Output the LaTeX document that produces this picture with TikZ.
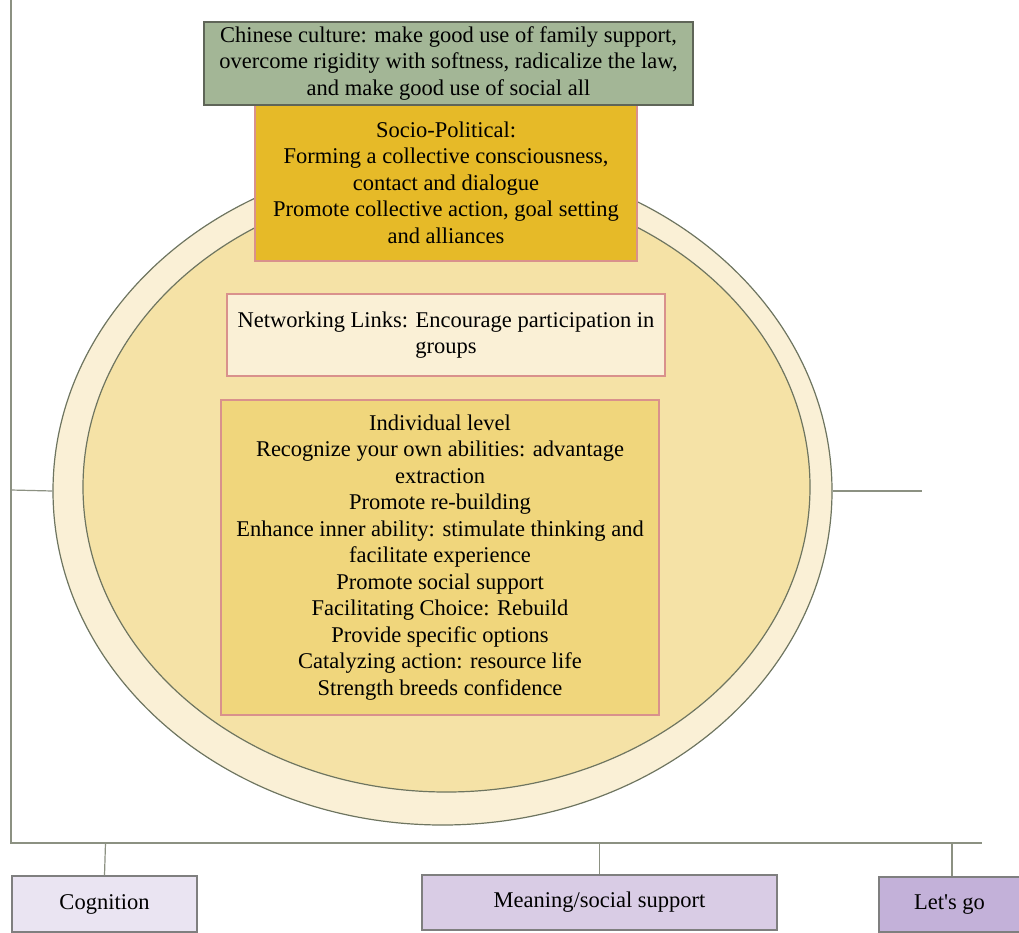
\documentclass[tikz,border=0pt]{standalone}
\usepackage{fontspec}
\setmainfont{Liberation Serif}
\newfontfamily\plainserif{Liberation Serif}
\usetikzlibrary{shapes.geometric}
\definecolor{axisc}{HTML}{8C9182}
\definecolor{ellline}{HTML}{6E7560}
\definecolor{outerf}{HTML}{FAF0D6}
\definecolor{innerf}{HTML}{F5E2A6}
\definecolor{chinf}{HTML}{A3B696}
\definecolor{chind}{HTML}{5F6558}
\definecolor{sociof}{HTML}{E6BA28}
\definecolor{pinkd}{HTML}{D9918C}
\definecolor{netf}{HTML}{FAF0D6}
\definecolor{indf}{HTML}{F0D67C}
\definecolor{cogf}{HTML}{EAE4F2}
\definecolor{meanf}{HTML}{D9CCE5}
\definecolor{letf}{HTML}{C3B1D9}
\definecolor{boxd}{HTML}{7F7F7F}
\tikzset{
  txt/.style={font=\fontsize{22.5}{26.5}\selectfont, align=center, text=black, inner sep=0pt, line width=1.2pt},
  pinkbox/.style={txt, draw=pinkd, rectangle},
  lowbox/.style={txt, draw=boxd, rectangle},
  ell/.style={ellipse, draw=ellline, line width=1.2pt, inner sep=0pt},
  conn/.style={draw=axisc, line width=1.2pt}
}
\begin{document}
\begin{tikzpicture}[x=1pt,y=-1pt]
\useasboundingbox (0,0) rectangle (1019,932);
% axes
\coordinate (ytop) at (11,0);
\coordinate (origin) at (11,843);
\coordinate (xend) at (982,843);
\draw[conn] (ytop) -- (origin) -- (xend);
% ellipses
\node[ell, fill=outerf, minimum width=779pt, minimum height=668pt] (outer) at (442.5,491) {};
\node[ell, fill=innerf, minimum width=727pt, minimum height=610pt] (inner) at (446.5,487) {};
\coordinate (lt) at (11,490);
\coordinate (rt) at (922,491);
\draw[conn] (lt) -- (outer.west);
\draw[conn] (outer.east) -- (rt);
% boxes
\node[pinkbox, fill=sociof, minimum width=382pt, minimum height=157pt] (socio) at (446,182.5)
  {Socio-Political:\\Forming a collective consciousness,\\contact and dialogue\\Promote collective action, goal setting\\and alliances};
\node[txt, draw=chind, fill=chinf, minimum width=489pt, minimum height=83pt] (chin) at (448.5,63.5)
  {Chinese culture: make good use of family support,\\overcome rigidity with softness, radicalize the law,\\and make good use of social all};
\node[pinkbox, fill=netf, minimum width=438pt, minimum height=82pt] (net) at (446,335)
  {Networking Links: Encourage participation in\\groups};
\node[pinkbox, fill=indf, minimum width=438pt, minimum height=315pt] (ind) at (440,557.5)
  {Individual level\\Recognize your own abilities: advantage\\extraction\\Promote re-building\\Enhance inner ability: stimulate thinking and\\facilitate experience\\Promote social support\\Facilitating Choice: Rebuild\\Provide specific options\\Catalyzing action: resource life\\Strength breeds confidence};
% bottom boxes
\node[lowbox, fill=cogf, minimum width=185pt, minimum height=56pt] (cog) at (104.5,904) {Cognition};
\node[lowbox, fill=meanf, minimum width=355pt, minimum height=55pt] (mean) at (599.5,902.5) {Meaning/social support};
\node[lowbox, fill=letf, minimum width=141pt, minimum height=55pt] (let) at (949.5,904.5) {Let{\plainserif '}s go};
\coordinate (t1) at (105.5,843);
\coordinate (t2) at (599.5,843);
\coordinate (t3) at (952,843);
\draw[conn] (t1) -- (cog.north);
\draw[conn] (t2) -- (mean.north);
\draw[conn] (t3) -- (t3 |- let.north);
\end{tikzpicture}
\end{document}
